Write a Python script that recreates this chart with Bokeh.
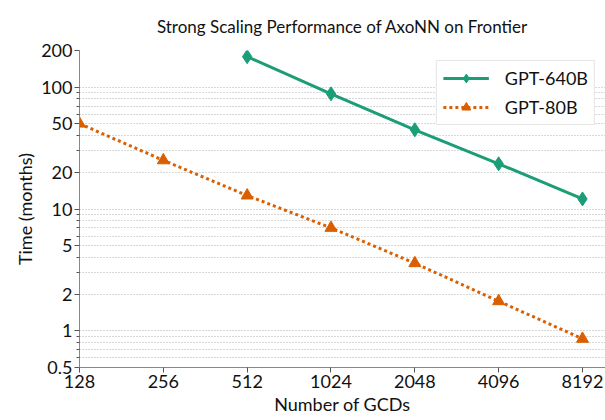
from bokeh.plotting import figure
from bokeh.models import FixedTicker, CustomJSTickFormatter, Range1d
from bokeh.embed import file_html
from bokeh.resources import INLINE

# ---- data ----
gcds_640b = [512, 1024, 2048, 4096, 8192]
time_640b = [178, 88.2, 44.7, 23.5, 12.1]
gcds_80b = [128, 256, 512, 1024, 2048, 4096, 8192]
time_80b = [50.2, 25.1, 12.9, 7.0, 3.59, 1.75, 0.86]
x_ticks = [128, 256, 512, 1024, 2048, 4096, 8192]
y_ticks = [0.5, 1, 2, 5, 10, 20, 50, 100, 200]
y_minor = [0.6, 0.7, 0.8, 0.9, 3, 4, 6, 7, 8, 9, 30, 40, 60, 70, 80, 90]

FONT = "Lato"
GREEN = "#1b9e77"
ORANGE = "#d95f02"

p = figure(width=605, height=420, x_axis_type="log", y_axis_type="log",
           x_range=Range1d(128, 9909), y_range=Range1d(0.5, 200),
           output_backend="svg", toolbar_location=None,
           min_border_left=79, min_border_right=0, min_border_top=0,
           min_border_bottom=53,
           title="Strong Scaling Performance of AxoNN on Frontier")
p.outline_line_color = None
p.background_fill_color = "white"

p.title.align = "center"
p.title.text_font = FONT
p.title.text_font_size = "17px"
p.title.text_font_style = "normal"
p.title.text_color = "#111111"
p.title.standoff = 27

p.xaxis.ticker = FixedTicker(ticks=x_ticks, minor_ticks=[])
p.yaxis.ticker = FixedTicker(ticks=y_ticks, minor_ticks=y_minor)
p.xaxis.formatter = CustomJSTickFormatter(code="return tick.toString();")
p.yaxis.formatter = CustomJSTickFormatter(code="return tick.toString();")

for ax in (p.xaxis[0], p.yaxis[0]):
    ax.axis_line_color = "#888888"
    ax.major_tick_line_color = "#555555"
    ax.minor_tick_line_color = "#555555"
    ax.major_tick_in = 0
    ax.major_tick_out = 5
    ax.minor_tick_in = 0
    ax.minor_tick_out = 3
    ax.major_label_text_font = FONT
    ax.major_label_text_font_size = "18px"
    ax.major_label_text_color = "#111111"
    ax.axis_label_text_font = FONT
    ax.axis_label_text_font_size = "18px"
    ax.axis_label_text_font_style = "normal"
    ax.axis_label_text_color = "#111111"
    ax.major_label_standoff = 2
    ax.axis_label_standoff = 2

p.xaxis.axis_label = "Number of GCDs"
p.yaxis.axis_label = "Time (months)"

p.xgrid.grid_line_color = None
p.ygrid.grid_line_color = "#b0b0b0"
p.ygrid.grid_line_dash = "1 2"
p.ygrid.minor_grid_line_color = "#b0b0b0"
p.ygrid.minor_grid_line_dash = "1 2"

p.line(gcds_640b, time_640b, line_color=GREEN, line_width=3, legend_label="GPT-640B")
p.scatter(gcds_640b, time_640b, marker="diamond", size=14, fill_color=GREEN,
          line_color=GREEN, legend_label="GPT-640B")
p.line(gcds_80b, time_80b, line_color=ORANGE, line_width=3, line_dash="3 3",
       legend_label="GPT-80B")
p.scatter(gcds_80b, time_80b, marker="triangle", size=12, fill_color=ORANGE,
          line_color=ORANGE, legend_label="GPT-80B")

lg = p.legend[0]
lg.location = "top_right"
lg.margin = 10
lg.padding = 6
lg.spacing = 7
lg.glyph_width = 46
lg.glyph_height = 22
lg.label_standoff = 16
lg.label_text_font = FONT
lg.label_text_font_size = "18px"
lg.label_text_color = "#111111"
lg.border_line_color = "#cccccc"
lg.border_line_width = 1
lg.background_fill_alpha = 1

open("out.html", "w").write(file_html(p, INLINE))
